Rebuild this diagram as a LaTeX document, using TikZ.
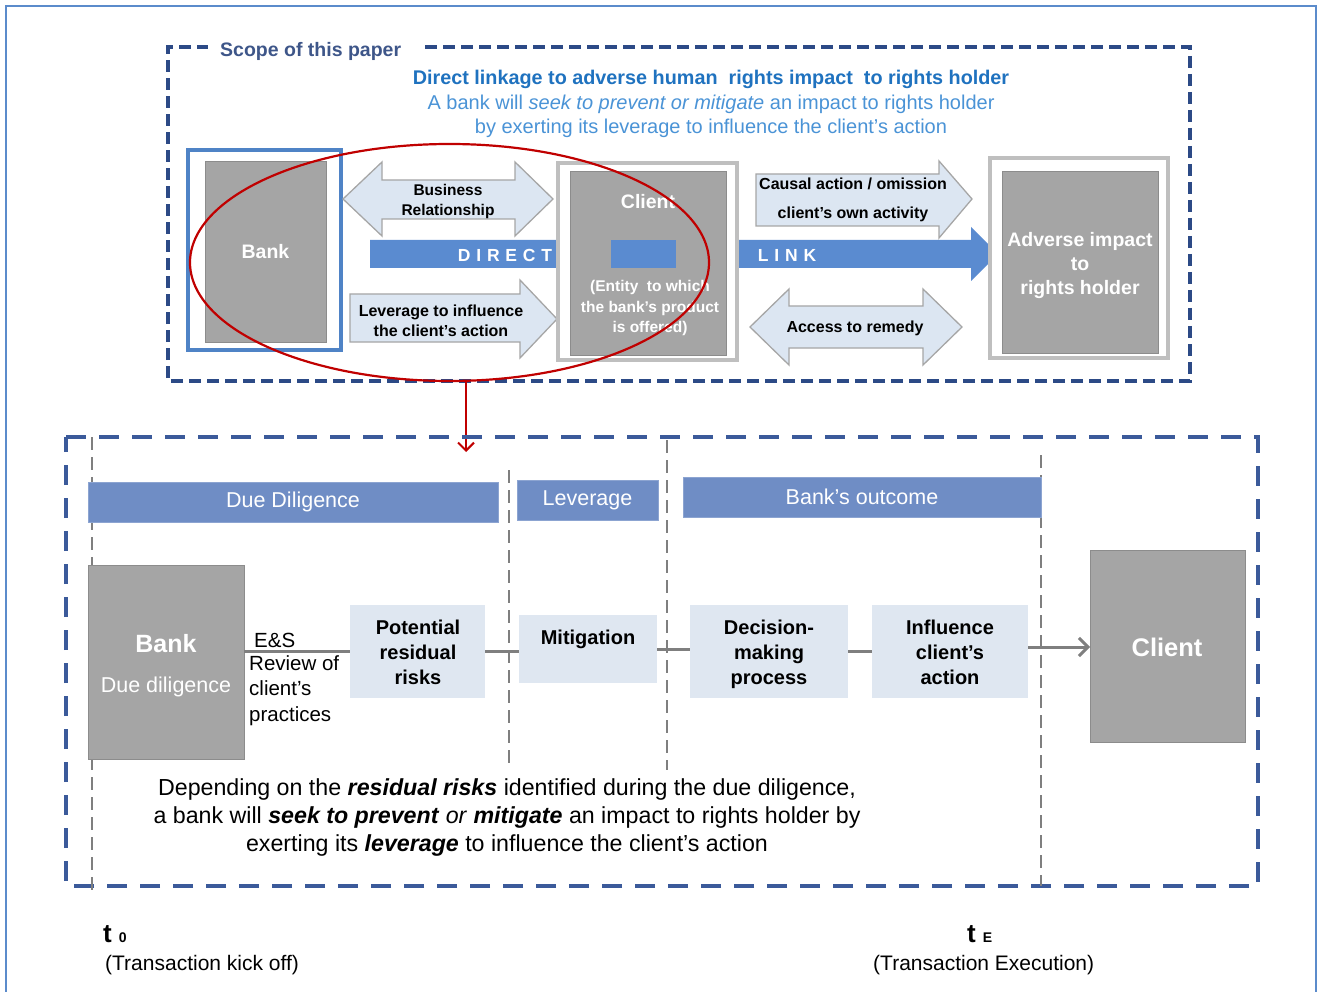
\documentclass[tikz,border=0pt]{standalone}
\usepackage{fontspec}
\setmainfont{Liberation Sans}
\usetikzlibrary{arrows.meta,shapes.geometric}
\definecolor{framecol}{HTML}{5B8BCB}
\definecolor{navy}{HTML}{2C4A86}
\definecolor{navytwo}{HTML}{3B5A9A}
\definecolor{scopecol}{HTML}{3E5689}
\definecolor{titleblue}{HTML}{1F72BF}
\definecolor{lightblue}{HTML}{4A93D6}
\definecolor{bankblue}{HTML}{4F83C6}
\definecolor{grayf}{HTML}{A5A5A5}
\definecolor{grayd}{HTML}{8C8C8C}
\definecolor{lgray}{HTML}{BFBFBF}
\definecolor{arrowfill}{HTML}{DCE6F2}
\definecolor{arrowdraw}{HTML}{A6A6A6}
\definecolor{linkblue}{HTML}{5A8BD0}
\definecolor{barblue}{HTML}{6F8DC5}
\definecolor{boxfill}{HTML}{DFE7F1}
\definecolor{dgray}{HTML}{7F7F7F}
\definecolor{redc}{HTML}{C00000}
\tikzset{
  nw/.style={anchor=north west, inner sep=0pt, outer sep=0pt},
  graybox/.style={nw, fill=grayf, draw=grayd, line width=1},
  whiteframe/.style={nw, fill=white, draw=lgray, line width=3.5},
  blockarrow/.style={fill=arrowfill, draw=arrowdraw, line width=1.3},
  wtext/.style={text=white, font=\bfseries\fontsize{19.5}{24}\selectfont, align=center, inner sep=0pt},
  atext/.style={font=\bfseries\fontsize{16}{20}\selectfont, align=center, inner sep=0pt},
  bar/.style={nw, fill=barblue, draw=barblue!80, line width=0.8},
  bartext/.style={text=white, font=\fontsize{21.5}{24}\selectfont, inner sep=0pt},
  lbox/.style={nw, fill=boxfill},
  btext/.style={font=\bfseries\fontsize{20}{25}\selectfont, align=center, inner sep=0pt},
  gdash/.style={dgray, line width=2, dash pattern=on 13 off 7},
  gline/.style={dgray, line width=3},
}
\begin{document}
\begin{tikzpicture}[x=1pt,y=-1pt]
\useasboundingbox (0,0) rectangle (1317,992);
% outer frame
\draw[framecol, line width=2.5] (6,995) -- (6,6) -- (1316,6) -- (1316,995);

% ===== top scope box =====
\draw[navy, line width=3.5, dash pattern=on 12 off 6] (425,47) -- (1190,47) -- (1190,381) -- (168,381) -- (168,47) -- (208,47);
\node[anchor=west, text=scopecol, font=\bfseries\fontsize{19.5}{22}\selectfont, inner sep=0pt] (scope) at (220,51) {Scope of this paper};

\node[text=titleblue, font=\bfseries\fontsize{19.8}{22}\selectfont, inner sep=0pt] (title) at (711,79) {Direct linkage to adverse human~ rights impact~ to rights holder};
\node[text=lightblue, font=\fontsize{20}{22}\selectfont, inner sep=0pt] (sub1) at (711,104) {A bank will \textit{seek to prevent or mitigate} an impact to rights holder};
\node[text=lightblue, font=\fontsize{20}{22}\selectfont, inner sep=0pt] (sub2) at (711,128) {by exerting its leverage to influence the client's action};

% Bank (top)
\node[nw, draw=bankblue, line width=3.5, minimum width=153, minimum height=200] (bankframe) at (188,150) {};
\node[graybox, minimum width=121, minimum height=180] (bank) at (205,162) {};
\node[wtext] (banktxt) at (bank.center) {Bank};

% Business relationship double arrow
\draw[blockarrow] (343,199) -- (382,162) -- (382,180) -- (515,180) -- (515,162) -- (553,199) -- (515,236) -- (515,219) -- (382,219) -- (382,236) -- cycle;
\node[atext, font=\bfseries\fontsize{15.5}{20}\selectfont] (busrel) at (448,202) {Business\strut\\Relationship\strut};

% Leverage arrow
\draw[blockarrow] (350,294) -- (520,294) -- (520,280) -- (557,319) -- (520,358) -- (520,342) -- (350,342) -- cycle;
\node[atext] (levtxt) at (441,322.5) {Leverage to influence\strut\\the client's action\strut};

% direct link arrow
\fill[linkblue] (370,240) -- (971,240) -- (971,227) -- (998,254) -- (971,281) -- (971,268) -- (370,268) -- cycle;
\node[text=white, font=\bfseries\fontsize{17.5}{20}\selectfont, inner sep=0pt] (direct) at (505,255) {D\,\,I\,\,R\,\,E\,\,C\,\,T};
\node[text=white, font=\bfseries\fontsize{17.5}{20}\selectfont, inner sep=0pt] (link) at (787,255) {L\,\,I\,\,N\,\,K};

% Client (top)
\node[whiteframe, minimum width=179, minimum height=197] (clientframe) at (558,163) {};
\node[graybox, minimum width=156, minimum height=183] (client) at (570,172) {};
\fill[linkblue] (611,240) rectangle (676,268);
\node[wtext] (clienttxt) at (648,202) {Client};
\node[text=white, font=\bfseries\fontsize{15.5}{20}\selectfont, align=center, inner sep=0pt] (entity) at (650,308) {(Entity~ to which\strut\\the bank's product\strut\\is offered)\strut};

% Causal action arrow
\draw[blockarrow] (756,174) -- (939,174) -- (939,161) -- (972,199) -- (939,238) -- (939,226) -- (756,226) -- cycle;
\node[atext] (causal) at (853,200.5) {Causal action / omission\strut\\[9pt]client's own activity\strut};

% Access to remedy double arrow
\draw[blockarrow] (750,327) -- (789,289) -- (789,306) -- (923,306) -- (923,289) -- (962,327) -- (923,365) -- (923,348) -- (789,348) -- (789,365) -- cycle;
\node[atext] (remedy) at (855,328) {Access to remedy};

% Adverse impact
\node[whiteframe, minimum width=178, minimum height=200] (advframe) at (990,158) {};
\node[graybox, minimum width=156, minimum height=181] (adv) at (1002,172) {};
\node[wtext] (advtxt) at (1080,266) {Adverse impact\strut\\to\strut\\rights holder\strut};

% red ellipse and arrow
\node[draw=redc, line width=2.2, ellipse, minimum width=519, minimum height=237, inner sep=0pt] (ell) at (449.5,262.5) {};
\coordinate (redstart) at (466,380);
\coordinate (redend) at (466,452);
\draw[redc, line width=2, -{Straight Barb[length=8,width=16]}] (redstart) -- (redend);

% ===== bottom box =====
\draw[navytwo, line width=4, dash pattern=on 20 off 13] (66,437) -- (1258,437) -- (1258,886) -- (66,886) -- cycle;
\draw[gdash] (92,437) -- (92,892);
\draw[gdash] (509,470) -- (509,770);
\draw[gdash] (667,440) -- (667,770);
\draw[gdash] (1041,455) -- (1041,886);

\node[bar, minimum width=410, minimum height=40] (ddbar) at (88,482) {};
\node[bartext] (ddtxt) at (ddbar.center) {Due Diligence};
\node[bar, minimum width=141, minimum height=40] (levbar) at (517,480) {};
\node[bartext] (levbartxt) at (levbar.center) {Leverage};
\node[bar, minimum width=358, minimum height=40] (outbar) at (683,477) {};
\node[bartext] (outtxt) at (outbar.center) {Bank's outcome};

% bottom bank
\node[graybox, minimum width=156, minimum height=194] (bank2) at (88,565) {};
\node[text=white, font=\bfseries\fontsize{25}{28}\selectfont, inner sep=0pt] (bank2t) at (166,644) {Bank};
\node[text=white, font=\fontsize{21.5}{24}\selectfont, inner sep=0pt] (bank2d) at (166,687) {Due diligence};

\node[lbox, minimum width=135, minimum height=93] (pot) at (350,605) {};
\node[btext] (pottxt) at (418,654) {Potential\strut\\residual\strut\\risks\strut};
\node[lbox, minimum width=138, minimum height=68] (mit) at (519,615) {};
\node[btext] (mittxt) at (588,639) {Mitigation};
\node[lbox, minimum width=158, minimum height=93] (dec) at (690,605) {};
\node[btext] (dectxt) at (769,654) {Decision-\strut\\making\strut\\process\strut};
\node[lbox, minimum width=156, minimum height=93] (inf) at (872,605) {};
\node[btext] (inftxt) at (950,654) {Influence\strut\\client's\strut\\action\strut};
\node[graybox, minimum width=155, minimum height=192] (client2) at (1090,550) {};
\node[text=white, font=\bfseries\fontsize{25.5}{28}\selectfont, inner sep=0pt] (client2t) at (1167,647) {Client};

\draw[gline] (bank2.east |- pot.west) -- (pot.west);
\draw[gline] (pot.east) -- (pot.east -| mit.west);
\draw[gline] (mit.east) -- (mit.east -| dec.west);
\draw[gline] (dec.east) -- (dec.east -| inf.west);
\draw[gline, -{Straight Barb[length=9,width=18]}] (inf.east |- client2t) -- (client2.west |- client2t);

\node[anchor=west, font=\fontsize{20.5}{24}\selectfont, inner sep=0pt] (es) at (254,640) {E\&S};
\node[anchor=north west, font=\fontsize{20.5}{25.5}\selectfont, align=left, inner sep=0pt] (review) at (249,655) {Review of\\client's\\practices};

\node[font=\fontsize{23.2}{28}\selectfont, align=center, inner sep=0pt] (body) at (507,818) {Depending on the \textbf{\textit{residual risks}} identified during the due diligence,\strut\\a bank will \textbf{\textit{seek to prevent}} \textit{or} \textbf{\textit{mitigate}} an impact to rights holder by\strut\\exerting its \textbf{\textit{leverage}} to influence the client's action\strut};

% time labels
\node[anchor=base west, font=\bfseries\fontsize{26}{30}\selectfont, inner sep=0pt] (t0) at (103,942) {t\hspace{7pt}\fontsize{14}{16}\selectfont0};
\node[anchor=west, font=\fontsize{21}{24}\selectfont, inner sep=0pt] (t0d) at (105,965) {(Transaction kick off)};
\node[anchor=base west, font=\bfseries\fontsize{26}{30}\selectfont, inner sep=0pt] (te) at (967,942) {t\hspace{7pt}\fontsize{14}{16}\selectfont E};
\node[anchor=west, font=\fontsize{21}{24}\selectfont, inner sep=0pt] (ted) at (873,965) {(Transaction Execution)};
\end{tikzpicture}
\end{document}
